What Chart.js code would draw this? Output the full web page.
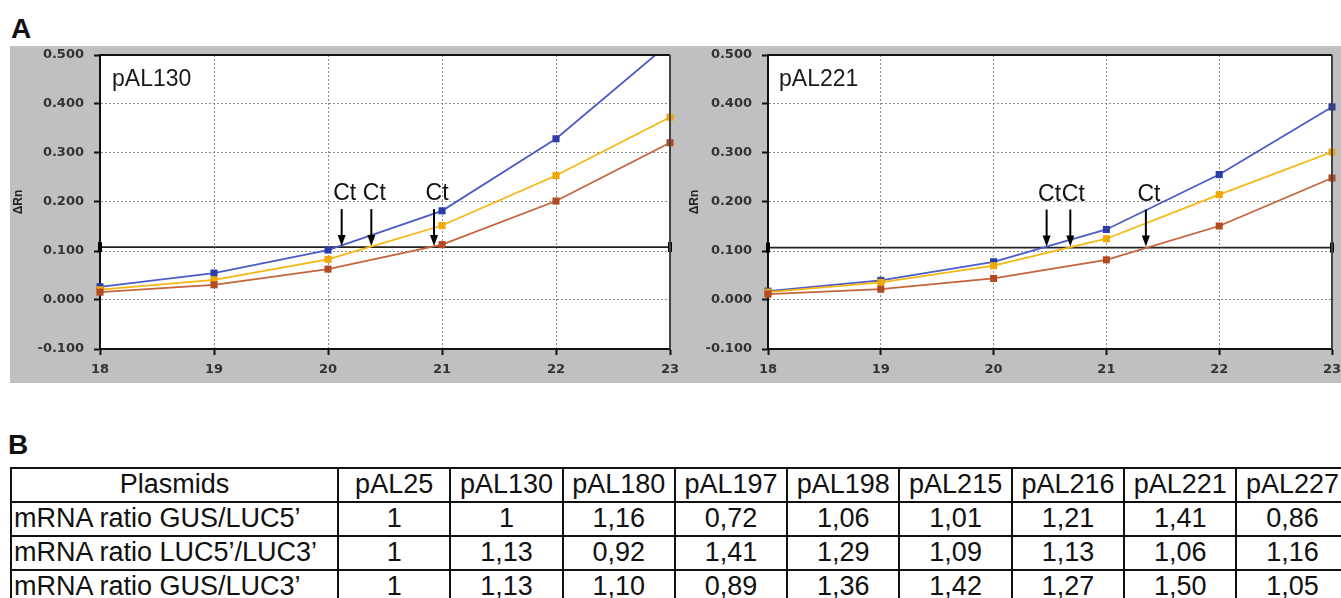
<!DOCTYPE html>
<html><head><meta charset="utf-8">
<script src="https://cdn.jsdelivr.net/npm/chart.js@4.4.1/dist/chart.umd.min.js"></script>
<style>
html,body{margin:0;padding:0;background:#fff;width:1341px;height:598px;overflow:hidden;position:relative;font-family:"Liberation Sans",Arial,sans-serif;color:#111;}
#panel{position:absolute;left:10px;top:46px;width:1331px;height:337px;background:#c0c0c0;}
#c1{position:absolute;left:10px;top:46px;}
#c2{position:absolute;left:678px;top:46px;}
.lbl{position:absolute;font-weight:bold;font-size:28px;line-height:1;}
#tbl{position:absolute;left:10px;top:467px;border-collapse:collapse;table-layout:fixed;width:1338px;font-size:27px;}
#tbl td{border:2px solid #111;padding:0;text-align:center;white-space:nowrap;overflow:hidden;line-height:1.1;}
#tbl tr{height:34px;}
#tbl td.rh{text-align:left;padding-left:2px;}
#tbl td.hd{text-align:center;}
</style></head>
<body>
<div class="lbl" style="left:11px;top:15px;">A</div>
<div id="panel"></div>
<canvas id="c1" width="672" height="337"></canvas>
<canvas id="c2" width="663" height="337"></canvas>
<div class="lbl" style="left:8px;top:431px;">B</div>
<table id="tbl"><colgroup id="cg"></colgroup><tbody id="tb"></tbody></table>
<script>
// ---- data: panel A ----
const cycles = [18, 19, 20, 21, 22, 23];
const yTickValues = [-0.1, 0, 0.1, 0.2, 0.3, 0.4, 0.5];

const pAL130Blue   = [0.027, 0.055, 0.102, 0.182, 0.329, 0.525];
const pAL130Orange = [0.021, 0.041, 0.083, 0.152, 0.254, 0.373];
const pAL130Red    = [0.016, 0.031, 0.063, 0.113, 0.202, 0.321];
const pAL130Threshold = 0.108;
const pAL130Ct = [20.12, 20.38, 20.93];

const pAL221Blue   = [0.018, 0.040, 0.078, 0.144, 0.256, 0.394];
const pAL221Orange = [0.016, 0.036, 0.070, 0.125, 0.215, 0.302];
const pAL221Red    = [0.012, 0.022, 0.044, 0.082, 0.151, 0.249];
const pAL221Threshold = 0.107;
const pAL221Ct = [20.47, 20.68, 21.35];

// ---- data: panel B ----
const plasmids = ["pAL25", "pAL130", "pAL180", "pAL197", "pAL198", "pAL215", "pAL216", "pAL221", "pAL227"];
const rowLabels = ["mRNA ratio GUS/LUC5\u2019", "mRNA ratio LUC5\u2019/LUC3\u2019", "mRNA ratio GUS/LUC3\u2019"];
const ratioGusLuc5  = ["1", "1", "1,16", "0,72", "1,06", "1,01", "1,21", "1,41", "0,86"];
const ratioLuc5Luc3 = ["1", "1,13", "0,92", "1,41", "1,29", "1,09", "1,13", "1,06", "1,16"];
const ratioGusLuc3  = ["1", "1,13", "1,10", "0,89", "1,36", "1,42", "1,27", "1,50", "1,05"];

// ---- table ----
(function(){
  const cg = document.getElementById('cg');
  let c = document.createElement('col'); c.style.width = '327px'; cg.appendChild(c);
  plasmids.forEach(() => { const k = document.createElement('col'); k.style.width = '112.3px'; cg.appendChild(k); });
  const tb = document.getElementById('tb');
  const hr = document.createElement('tr');
  const h0 = document.createElement('td'); h0.className = 'hd'; h0.textContent = 'Plasmids'; hr.appendChild(h0);
  plasmids.forEach(p => { const td = document.createElement('td'); td.textContent = p; hr.appendChild(td); });
  tb.appendChild(hr);
  [ratioGusLuc5, ratioLuc5Luc3, ratioGusLuc3].forEach((vals, r) => {
    const tr = document.createElement('tr');
    const t0 = document.createElement('td'); t0.className = 'rh'; t0.textContent = rowLabels[r]; tr.appendChild(t0);
    vals.forEach(v => { const td = document.createElement('td'); td.textContent = v; tr.appendChild(td); });
    tb.appendChild(tr);
  });
})();

// ---- charts ----
const COL = {
  blueLine: '#4b5cc4', bluePt: '#2c3da8',
  orangeLine: '#f6b713', orangePt: '#f0a800',
  redLine: '#c4643c', redPt: '#b24a22'
};
const tickFont = {family: '"DejaVu Sans", sans-serif', size: 13, weight: 'bold'};

function series(vals, line, pt) {
  return {
    data: cycles.map((c, i) => ({x: c, y: vals[i]})),
    borderColor: line, backgroundColor: pt,
    pointBackgroundColor: pt, pointBorderWidth: 0,
    pointStyle: 'rect', pointRadius: 5, borderWidth: 1.8,
    clip: {left: 6, right: 6, top: 0, bottom: 6}, order: 1
  };
}

function panelPlugin(title, titleDx, ctList, thr) {
  return {
    id: 'panelDeco',
    beforeDraw(chart) {
      const {ctx, chartArea: a} = chart;
      ctx.save();
      ctx.fillStyle = '#ffffff';
      ctx.fillRect(a.left, a.top, a.right - a.left, a.bottom - a.top);
      ctx.restore();
    },
    afterDraw(chart) {
      const {ctx, chartArea: a, scales: {x, y}} = chart;
      ctx.save();
      ctx.lineWidth = 2;
      ctx.strokeStyle = '#111';
      ctx.beginPath(); ctx.moveTo(a.left, a.top); ctx.lineTo(a.right, a.top); ctx.stroke();
      ctx.strokeStyle = '#444';
      ctx.beginPath(); ctx.moveTo(a.right, a.top); ctx.lineTo(a.right, a.bottom); ctx.stroke();
      ctx.fillStyle = '#1a1a1a';
      ctx.font = '23px "Liberation Sans", Arial, sans-serif';
      ctx.textAlign = 'left'; ctx.textBaseline = 'alphabetic';
      ctx.fillText(title, a.left + titleDx, a.top + 31);
      const ty = y.getPixelForValue(thr);
      ctx.font = '23px "Liberation Sans", Arial, sans-serif';
      ctx.textAlign = 'center';
      ctList.forEach(v => {
        const px = x.getPixelForValue(v);
        ctx.strokeStyle = '#000'; ctx.lineWidth = 2;
        ctx.beginPath(); ctx.moveTo(px, ty - 38); ctx.lineTo(px, ty - 10); ctx.stroke();
        ctx.fillStyle = '#000';
        ctx.beginPath(); ctx.moveTo(px - 4, ty - 12); ctx.lineTo(px + 4, ty - 12); ctx.lineTo(px, ty - 1); ctx.closePath(); ctx.fill();
        ctx.fillStyle = '#111';
        ctx.fillText('Ct', px + 3, ty - 47);
      });
      ctx.restore();
    }
  };
}

function makeChart(id, blue, orange, red, thr, ctList, title, titleDx, rightPad, titlePad) {
  return new Chart(document.getElementById(id), {
    type: 'line',
    data: {
      datasets: [
        {
          data: [{x: cycles[0], y: thr}, {x: cycles[cycles.length - 1], y: thr}],
          borderColor: '#222', borderWidth: 1.8,
          pointStyle: 'line', rotation: 90, pointRadius: 5, pointBorderWidth: 4,
          pointBorderColor: '#000', pointBackgroundColor: '#000',
          clip: {left: 6, right: 6, top: 0, bottom: 0}, order: 10
        },
        series(red, COL.redLine, COL.redPt),
        series(orange, COL.orangeLine, COL.orangePt),
        series(blue, COL.blueLine, COL.bluePt)
      ]
    },
    options: {
      responsive: false, animation: false,
      layout: {padding: {left: 0, top: 6, right: rightPad, bottom: 0}},
      plugins: {legend: {display: false}, tooltip: {enabled: false}},
      scales: {
        x: {
          type: 'linear', min: cycles[0], max: cycles[cycles.length - 1],
          afterBuildTicks: s => { s.ticks = cycles.map(v => ({value: v})); },
          ticks: {font: tickFont, color: '#333', padding: 7, maxRotation: 0, callback: v => String(v)},
          grid: {color: '#8a8a8a', lineWidth: 1, tickColor: '#111', tickLength: 6, tickWidth: 2},
          border: {color: '#111', width: 2, dash: [2, 2]},
          afterFit: s => { s.height = 34; s.paddingLeft = 0; s.paddingRight = 0; }
        },
        y: {
          type: 'linear', min: yTickValues[0], max: yTickValues[yTickValues.length - 1],
          afterBuildTicks: s => { s.ticks = yTickValues.map(v => ({value: v})); },
          ticks: {font: tickFont, color: '#333', padding: 10, callback: v => Number(v).toFixed(3)},
          grid: {color: '#8a8a8a', lineWidth: 1, tickColor: '#111', tickLength: 6, tickWidth: 2},
          border: {color: '#111', width: 2, dash: [2, 2]},
          title: {display: true, text: '\u0394Rn', color: '#222',
                  font: {family: '"Liberation Sans", Arial, sans-serif', size: 12, weight: 'bold'},
                  padding: {top: titlePad, bottom: 0}},
          afterFit: s => { s.width = 90; s.paddingTop = 0; s.paddingBottom = 0; }
        }
      }
    },
    plugins: [panelPlugin(title, titleDx, ctList, thr)]
  });
}

makeChart('c1', pAL130Blue, pAL130Orange, pAL130Red, pAL130Threshold, pAL130Ct, 'pAL130', 12, 12, 1);
makeChart('c2', pAL221Blue, pAL221Orange, pAL221Red, pAL221Threshold, pAL221Ct, 'pAL221', 11, 1, 9);
</script>
</body></html>
